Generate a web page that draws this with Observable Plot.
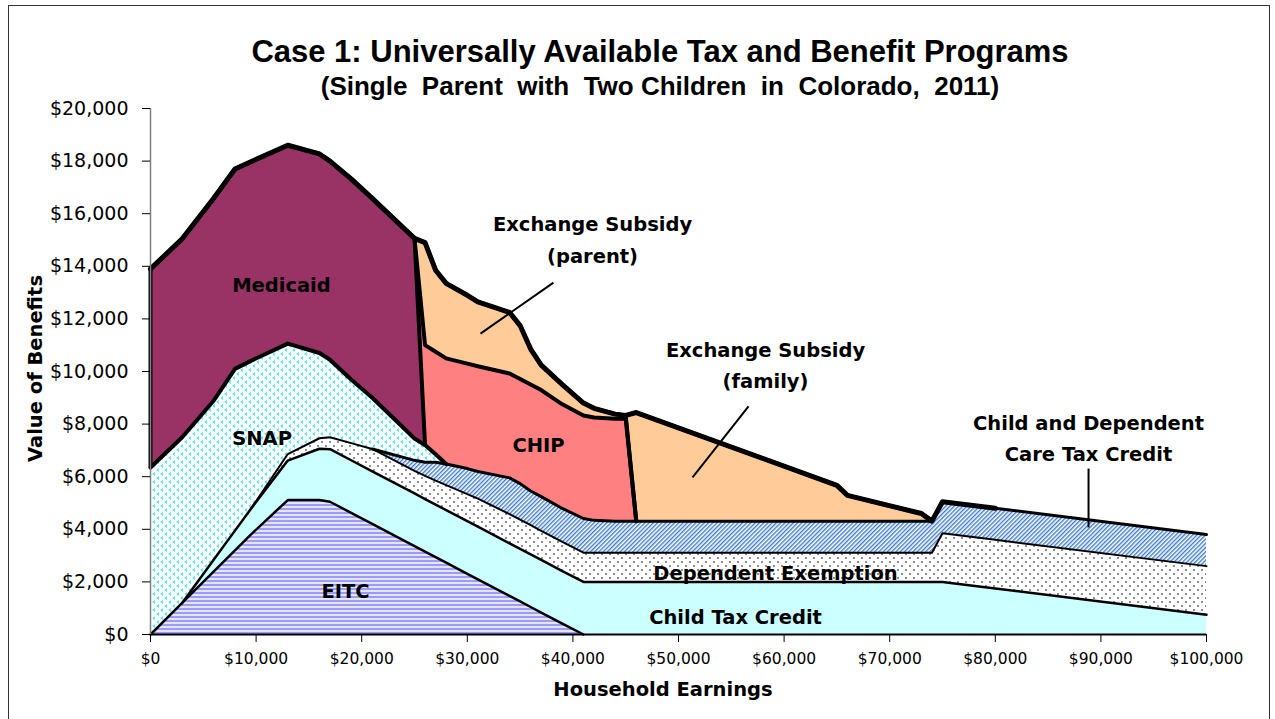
<!DOCTYPE html>
<html><head><meta charset="utf-8">
<script src="https://cdn.jsdelivr.net/npm/d3@7"></script>
<script src="https://cdn.jsdelivr.net/npm/@observablehq/plot@0.6"></script>
<style>
body{margin:0;background:#fff;}
#wrap{position:relative;width:1275px;height:719px;overflow:hidden;background:#fff;}
#chart{position:absolute;left:0;top:0;}
#frame{position:absolute;left:8px;top:5px;width:1262px;height:740px;border:1.5px solid #333;box-sizing:border-box;pointer-events:none;}
.ttl{position:absolute;left:0;width:1320px;text-align:center;font-family:"Liberation Sans",Arial,sans-serif;font-weight:bold;white-space:pre;color:#000;line-height:1.15;}
.axt{position:absolute;font-family:"DejaVu Sans",sans-serif;font-weight:bold;font-size:19.5px;color:#000;white-space:pre;text-align:center;}
</style></head><body>
<div id="wrap">
<div id="chart"></div>
<div class="ttl" style="top:34px;font-size:31px;">Case 1: Universally Available Tax and Benefit Programs</div>
<div class="ttl" style="top:72px;font-size:26px;">(Single  Parent  with  Two Children  in  Colorado,  2011)</div>
<div class="axt" style="left:-115px;top:357px;width:300px;transform:rotate(-90deg);">Value of Benefits</div>
<div class="axt" style="left:513px;top:678px;width:300px;">Household Earnings</div>
<div id="frame"></div>
</div>
<script>
// Household earnings (x positions of the data points)
const earnings = [0,3000,6000,8000,9500,13000,16000,17000,19000,21000,25000,26000,27000,28000,30000,31000,34000,35000,36000,37000,39000,41000,42000,44000,45000,46000,65000,66000,73000,74000,75000,80000,100000];

// Program values (not cumulative), one per earnings point
const eitc = [0,1200,2400,3200,3800,5112,5112,5047,4626,4204,3362,3151,2940,2730,2309,2098,1466,1256,1045,834,413,
  0,0,0,0,0,0,0,0,0,0,0,0];
const childTaxCredit = [0,0,450,750,975,1500,1950,
  2000,2000,2000,2000,2000,2000,2000,2000,2000,2000,2000,2000,2000,2000,2000,2000,2000,2000,2000,2000,2000,2000,2000,2000,
  1750,750];
const dependentExemption = [0,0,0,0,0,
  250,400,450,650,850,860,880,910,950,1030,1070,
  1110,1110,1110,1110,1110,1110,1110,1110,1110,1110,1110,1110,1110,1110,
  1850,1850,1850];
const careTaxCredit = [0,0,0,0,0,0,0,0,0,0,
  400,520,700,800,970,1030,1380,1370,1300,1300,1270,1300,1230,
  1200,1200,1200,1200,1200,1200,1200,1200,1200,1200];
const snap = [6350,6300,6050,6150,5630,4200,3240,2950,2420,1950,830,650,300,0,
  0,0,0,0,0,0,0,0,0,0,0,0,0,0,0,0,0,0,0];
const medicaid = [7550,7550,7700,7600,7570,7540,7570,7550,7630,7580,7610,
  0,0,0,0,0,0,0,0,0,0,0,0,0,0,0,0,0,0,0,0,0];
const chip = [0,0,0,0,0,0,0,0,0,0,0,
  3800,3900,4020,3990,4000,3970,3980,4050,4050,3960,3920,3910,3890,3890,
  0,0,0,0,0,0,0,0];
const exchangeParent = [0,0,0,0,0,0,0,0,0,0,0,
  3900,3100,2850,2600,2450,2320,2030,1350,950,750,470,350,180,130,
  0,0,0,0,0,0,0,0];
const exchangeFamily = [0,0,0,0,0,0,0,0,0,0,0,0,0,0,0,0,0,0,0,0,0,0,0,0,0,
  4130,1360,980,290,0,0,0,0];

// Axis ticks
const yTicks = [0,2000,4000,6000,8000,10000,12000,14000,16000,18000,20000];
const xTicks = [0,10000,20000,30000,40000,50000,60000,70000,80000,90000,100000];

// Labels (text, earnings, value)
const labelText = ["Medicaid","SNAP","EITC","CHIP","Exchange Subsidy\n(parent)","Exchange Subsidy\n(family)","Child and Dependent\nCare Tax Credit","Dependent Exemption","Child Tax Credit"];
const labelX = [12400,10570,18470,36740,41860,58240,88830,59190,55400];
const labelY = [13420,7570,1750,7300,15110,10340,7570,2470,760];
// Leader lines
const leaderX1 = [38160,56630,88830], leaderY1 = [13380,8670,6310];
const leaderX2 = [31250,51330,88830], leaderY2 = [11440,5970,4070];

const series = [
  {name:"EITC", values:eitc, fill:"url(#pEitc)", sw:2.5},
  {name:"Child Tax Credit", values:childTaxCredit, fill:"#ccffff", sw:2.5},
  {name:"Dependent Exemption", values:dependentExemption, fill:"url(#pDep)", sw:2},
  {name:"Child and Dependent Care Tax Credit", values:careTaxCredit, fill:"url(#pCdc)", sw:3},
  {name:"SNAP", values:snap, fill:"url(#pSnap)", sw:4},
  {name:"Medicaid", values:medicaid, fill:"#993366", sw:4},
  {name:"CHIP", values:chip, fill:"#ff8080", sw:4},
  {name:"Exchange Subsidy (parent)", values:exchangeParent, fill:"#ffcc99", sw:4},
  {name:"Exchange Subsidy (family)", values:exchangeFamily, fill:"#ffcc99", sw:4}
];

let base = earnings.map(() => 0);
const layers = series.map(s => {
  const lo = base;
  const hi = lo.map((b, i) => b + s.values[i]);
  base = hi;
  return {...s, lo, hi};
});
const total = base;

const marks = [];
for (const L of layers) {
  marks.push(Plot.areaY(earnings.map((x, i) => ({x, y1: L.lo[i], y2: L.hi[i]})), {x:"x", y1:"y1", y2:"y2", fill:L.fill}));
}
for (const L of layers) {
  const v = L.values;
  const pts = earnings.map((x, i) => {
    const on = v[i] > 0 || (i > 0 && v[i-1] > 0) || (i < v.length-1 && v[i+1] > 0);
    return {x, y: on ? L.hi[i] : NaN};
  });
  marks.push(Plot.lineY(pts, {x:"x", y:"y", stroke:"#000", strokeWidth:L.sw, strokeLinejoin:"round"}));
}
marks.push(Plot.lineY(earnings.map((x, i) => ({x, y: total[i]})), {x:"x", y:"y", stroke:"#000", strokeWidth:5, strokeLinejoin:"round"}));
// left & right edges
const snapTop0 = layers[4].hi[0];
marks.push(Plot.ruleX([{x: earnings[0], y1: snapTop0, y2: total[0]}], {x:"x", y1:"y1", y2:"y2", stroke:"#000", strokeWidth:4}));
marks.push(Plot.ruleX([{x: earnings[earnings.length-1], y1: 0, y2: total[total.length-1]}], {x:"x", y1:"y1", y2:"y2", stroke:"#000", strokeWidth:2.5}));
// axes
marks.push(Plot.ruleY([0], {stroke:"#000", strokeWidth:2}));
marks.push(Plot.ruleX([0], {stroke:"#808080", strokeWidth:1.5}));
marks.push(Plot.axisY({ticks:yTicks, tickFormat:d3.format("$,"), tickSize:8, tickPadding:14, label:null, fontSize:19}));
marks.push(Plot.axisX({ticks:xTicks, tickFormat:d3.format("$,"), tickSize:8, tickPadding:10, label:null, fontSize:15.5}));
// leaders & labels
marks.push(Plot.link(leaderX1.map((x, i) => ({x1:x, y1:leaderY1[i], x2:leaderX2[i], y2:leaderY2[i]})), {x1:"x1", y1:"y1", x2:"x2", y2:"y2", stroke:"#000", strokeWidth:2}));
marks.push(Plot.text(labelText.map((t, i) => ({t, x:labelX[i], y:labelY[i]})), {x:"x", y:"y", text:"t", fontFamily:"DejaVu Sans", fontWeight:"bold", fontSize:19.5, lineHeight:1.6, fill:"#000"}));

const chart = Plot.plot({
  width:1275, height:719,
  marginLeft:150, marginRight:69, marginTop:108, marginBottom:85,
  x:{domain:[0,100000]}, y:{domain:[0,20000]},
  style:{background:"transparent", fontFamily:"DejaVu Sans", color:"#000", overflow:"visible"},
  marks
});

const defs = document.createElementNS("http://www.w3.org/2000/svg", "defs");
defs.innerHTML = `
<pattern id="pEitc" patternUnits="userSpaceOnUse" width="6" height="4"><rect width="6" height="4" fill="#e4e4fd"/><rect width="6" height="2" fill="#9c9cf6"/></pattern>
<pattern id="pDep" patternUnits="userSpaceOnUse" width="8" height="8"><rect width="8" height="8" fill="#fff"/><circle cx="2" cy="2" r="0.8" fill="#000"/><circle cx="6" cy="6" r="0.8" fill="#000"/></pattern>
<pattern id="pCdc" patternUnits="userSpaceOnUse" width="3" height="3" patternTransform="rotate(45)"><rect width="3" height="3" fill="#fff"/><rect width="1.4" height="3" fill="#3d7bd2"/></pattern>
<pattern id="pSnap" patternUnits="userSpaceOnUse" width="8" height="8"><rect width="8" height="8" fill="#fff"/><path d="M3,0.6 L1.2,2 L3,3.4" stroke="#2ee3f3" stroke-width="1.1" fill="none"/><path d="M7,4.6 L5.2,6 L7,7.4" stroke="#2ee3f3" stroke-width="1.1" fill="none"/></pattern>`;
chart.insertBefore(defs, chart.firstChild);
document.getElementById("chart").appendChild(chart);
</script>
</body></html>
